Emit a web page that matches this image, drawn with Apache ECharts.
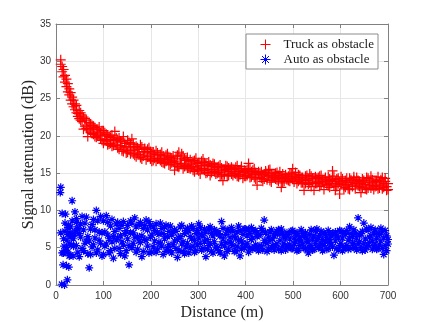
<!DOCTYPE html>
<html>
<head>
<meta charset="utf-8">
<script src="https://cdn.jsdelivr.net/npm/echarts@6/dist/echarts.min.js"></script>
<style>html,body{margin:0;padding:0;background:#fff;}#chart{width:429px;height:322px;}</style>
</head>
<body>
<div id="chart"></div>
<script>
// ---- data ----
const distance = [
10,13,16,19,22,25,28,31,34,37,
40,43,46,49,52,55,58,61,64,67,
70,73,76,79,82,85,88,91,94,97,
100,103,106,109,112,115,118,121,124,127,
130,133,136,139,142,145,148,151,154,157,
160,163,166,169,172,175,178,181,184,187,
190,193,196,199,202,205,208,211,214,217,
220,223,226,229,232,235,238,241,244,247,
250,253,256,259,262,265,268,271,274,277,
280,283,286,289,292,295,298,301,304,307,
310,313,316,319,322,325,328,331,334,337,
340,343,346,349,352,355,358,361,364,367,
370,373,376,379,382,385,388,391,394,397,
400,403,406,409,412,415,418,421,424,427,
430,433,436,439,442,445,448,451,454,457,
460,463,466,469,472,475,478,481,484,487,
490,493,496,499,502,505,508,511,514,517,
520,523,526,529,532,535,538,541,544,547,
550,553,556,559,562,565,568,571,574,577,
580,583,586,589,592,595,598,601,604,607,
610,613,616,619,622,625,628,631,634,637,
640,643,646,649,652,655,658,661,664,667,
670,673,676,679,682,685,688,691,694,697,
700];

// truck as obstacle, first measurement pass
const truckPass1 = [
30.2,29.3,27.9,28.1,26.6,27.0,25.5,25.8,24.3,24.8,
24.3,23.1,22.6,23.4,22.1,22.8,20.9,22.3,21.0,19.9,
21.8,20.5,21.4,20.2,21.1,19.8,20.9,20.0,19.6,20.7,
19.0,20.4,19.3,20.0,18.9,19.8,18.6,19.5,20.6,18.8,
19.5,18.2,19.2,18.0,19.9,18.5,17.7,19.4,18.1,18.9,
19.6,17.6,18.5,17.2,18.4,17.5,18.8,16.9,17.9,18.3,
16.8,18.2,17.3,17.9,16.6,17.8,17.0,18.0,16.9,17.4,
17.5,16.5,17.3,16.3,17.4,16.8,17.2,16.2,17.0,16.6,
15.4,17.2,15.9,17.8,16.3,17.6,15.6,16.9,16.0,17.1,
15.7,16.8,15.9,16.6,15.2,17.0,15.5,16.4,14.9,16.6,
16.9,15.4,16.2,15.1,16.5,14.7,15.9,16.3,15.2,15.8,
15.0,15.9,16.1,14.8,14.0,15.4,16.0,14.6,15.7,15.2,
15.8,14.7,15.5,14.9,16.0,14.5,15.3,15.6,14.3,15.4,
14.6,15.5,16.3,14.4,15.2,14.8,15.6,14.2,13.4,15.0,
14.4,15.2,13.9,14.9,15.3,14.1,14.7,15.5,13.8,14.6,
14.9,14.2,15.1,13.9,14.6,13.1,13.7,14.4,14.8,14.3,
14.0,15.0,14.3,15.6,14.6,14.5,13.6,14.8,14.1,14.4,
13.7,12.7,14.6,14.0,13.5,14.9,13.2,14.3,12.7,14.5,
13.6,14.4,13.2,14.7,13.9,12.8,14.2,13.5,14.5,13.1,
14.0,15.3,13.4,12.7,14.2,13.6,12.2,14.5,13.9,13.3,
13.1,14.3,13.7,12.8,14.1,13.4,14.5,12.9,13.6,14.0,
13.2,12.4,14.2,13.7,12.9,14.4,13.0,13.8,14.6,13.3,
12.8,13.9,13.3,14.5,13.0,14.1,12.9,13.6,14.3,13.2,
12.8];

// truck as obstacle, second measurement pass
const truckPass2 = [
29.6,28.6,28.9,27.2,27.6,25.9,26.3,24.8,25.2,23.9,
23.5,24.1,23.0,22.3,23.1,21.9,22.5,21.3,22.1,21.0,
20.8,21.6,20.3,21.3,19.9,20.9,20.1,21.2,20.4,19.4,
20.7,19.5,20.2,18.8,19.9,19.0,20.1,18.7,19.4,19.7,
18.4,19.7,18.7,19.3,17.9,19.0,18.6,17.8,19.1,17.6,
18.0,18.9,17.4,18.6,17.7,18.2,17.1,18.5,17.3,17.8,
17.9,17.2,18.4,16.9,17.6,16.7,17.5,16.6,17.7,16.9,
16.7,17.8,16.4,17.0,16.6,17.6,16.1,17.1,16.4,17.3,
16.6,16.1,17.4,15.8,16.9,16.2,17.3,15.9,16.7,15.7,
16.5,15.6,16.2,15.4,16.7,15.8,16.3,15.3,16.0,15.6,
15.6,16.4,15.0,16.0,15.4,16.1,15.1,15.5,16.2,14.9,
15.8,15.1,14.6,15.7,15.3,14.8,15.5,15.9,14.7,15.6,
14.9,15.6,15.0,15.8,14.6,15.2,14.8,15.9,15.1,14.6,
15.3,14.7,15.0,15.6,14.5,15.4,14.4,15.1,14.8,15.2,
15.0,14.3,14.8,14.2,15.1,14.6,15.4,14.0,14.9,14.4,
14.4,15.0,14.1,14.7,15.2,14.3,14.9,13.9,14.6,14.1,
14.6,13.9,14.9,14.2,13.8,15.1,14.4,13.9,14.7,13.7,
14.4,14.1,13.6,14.7,14.2,13.7,14.6,13.8,14.3,13.6,
14.3,13.8,14.6,13.4,14.1,13.7,14.4,13.9,13.3,14.2,
13.6,14.1,14.6,13.9,13.2,14.3,13.8,13.5,14.2,12.9,
14.0,13.5,12.9,14.3,13.8,13.2,14.1,13.7,14.4,13.3,
13.9,13.6,13.1,14.0,13.5,12.8,14.3,13.4,13.0,14.1,
13.7,13.2,14.0,12.9,13.8,13.4,14.4,13.1,13.9,12.7,
13.6];

// auto as obstacle, first measurement pass
const autoPass1 = [
13.1,9.6,4.3,7.2,2.6,6.8,5.5,7.8,11.3,6.2,
9.8,5.3,7.6,3.8,6.4,9.2,4.6,8.3,5.9,4.2,
2.3,7.5,5.1,8.8,6.3,10.0,4.7,7.1,5.6,3.9,
8.6,5.2,9.3,6.7,4.3,7.9,5.8,3.6,7.2,6.0,
8.4,4.9,6.6,8.0,5.4,3.9,7.3,6.2,2.7,8.6,
5.0,7.0,9.0,4.4,6.5,8.1,5.7,3.8,7.6,6.1,
8.7,5.2,8.5,6.4,4.4,7.8,5.9,8.2,4.8,6.8,
5.6,7.6,4.1,6.2,8.0,5.0,7.2,4.6,6.7,5.4,
7.4,4.9,3.7,6.3,7.8,5.5,4.5,6.9,5.1,7.6,
4.3,6.5,7.9,5.2,6.0,4.6,7.3,8.2,5.6,6.8,
4.9,7.5,3.8,6.1,5.3,7.8,4.5,6.6,5.8,7.2,
5.0,6.9,4.3,8.5,6.2,3.9,5.7,7.4,4.8,6.4,
7.7,5.3,6.5,4.6,7.1,7.9,3.9,5.9,6.8,5.0,
7.5,5.6,4.4,6.9,6.1,4.8,7.2,5.4,6.5,4.6,
6.8,5.2,7.3,8.7,5.7,4.5,6.4,7.1,5.0,6.2,
4.7,6.9,5.5,7.4,6.0,4.6,7.0,5.6,6.4,5.1,
6.8,5.4,7.2,4.9,6.3,5.8,7.0,4.7,6.5,7.4,
5.5,6.6,4.9,5.9,4.3,6.8,5.3,6.2,4.8,7.3,
6.0,5.0,6.7,5.6,4.6,7.0,5.8,6.4,4.9,6.1,
5.4,6.9,4.0,5.9,6.6,4.7,7.3,5.6,6.3,5.0,
6.8,5.3,6.0,7.8,4.9,6.5,5.6,7.0,4.7,9.0,
5.8,6.9,4.6,8.3,6.2,5.1,7.4,5.7,6.6,4.8,
7.0,5.5,6.3,4.9,6.8,5.9,7.2,4.1,5.3,6.6,
6.1];

// auto as obstacle, second measurement pass
const autoPass2 = [
7.0,4.3,6.2,8.3,5.0,7.7,3.9,6.6,8.6,5.2,
7.1,8.9,4.4,6.9,8.2,4.9,7.4,5.6,9.1,6.5,
5.9,4.1,8.1,5.4,7.4,4.3,8.6,6.0,9.2,7.0,
4.1,7.1,5.5,8.4,6.2,4.6,8.8,6.5,4.9,8.2,
6.3,7.6,4.2,5.8,8.5,6.9,4.6,8.0,5.3,7.0,
8.3,5.6,6.4,7.8,4.8,5.9,8.4,6.6,4.5,8.0,
6.0,7.4,4.3,8.0,6.7,5.1,7.3,4.4,7.0,5.7,
8.3,5.2,6.9,7.8,4.5,6.5,5.4,7.9,4.3,7.1,
5.9,7.2,6.1,4.6,6.5,8.0,5.8,4.2,7.3,5.6,
7.3,5.0,6.2,7.6,4.4,6.9,5.4,6.3,7.7,4.7,
6.6,5.8,7.1,4.8,7.5,5.6,6.9,4.3,7.4,5.1,
7.0,4.6,6.6,5.5,7.6,5.2,6.8,4.5,7.3,5.8,
5.5,7.2,4.5,6.3,5.2,6.0,7.3,4.8,5.6,7.5,
5.2,6.6,7.4,5.0,7.7,6.3,5.1,7.3,4.9,6.7,
5.3,7.6,4.7,6.0,7.0,5.6,4.8,6.0,7.4,5.3,
6.6,5.3,7.2,4.8,6.8,7.5,5.2,6.4,4.7,7.0,
5.2,6.2,4.9,7.3,5.5,6.9,4.6,6.1,5.3,5.9,
6.9,4.9,7.0,6.4,5.8,5.0,7.4,4.7,6.6,5.6,
7.5,6.4,5.2,7.2,6.1,5.3,6.8,4.8,7.3,5.7,
6.6,5.1,6.8,7.1,4.9,6.3,5.3,7.2,4.6,6.9,
5.1,7.3,4.8,6.2,6.9,5.5,7.4,5.0,6.3,5.6,
6.7,5.0,7.2,5.6,4.7,7.5,5.3,6.4,7.7,5.9,
5.1,7.4,4.8,6.9,5.4,7.6,4.9,6.3,7.3,4.6,
5.5];

// extra short-distance measurements of the auto obstacle
const autoEarlyDistance = [9,12,15,18,20,21,24,27,26,30,33,36,39,43,45,29,17,23,25,32];
const autoEarlyAttenuation = [12.4,0.1,2.7,0.0,9.5,4.6,0.7,2.4,8.0,4.0,6.5,3.9,6.9,8.4,7.5,7.0,5.2,6.0,4.4,5.4];

const xTicks = {min: 0, max: 700, interval: 100};
const yTicks = {min: 0, max: 35, interval: 5};
const seriesNames = ['Truck as obstacle', 'Auto as obstacle'];

// ---- chart ----
const plusPath = 'path://M0,5L10,5M5,0L5,10';
const starPath = 'path://M5,0L5,10M0,5L10,5M1.5,1.5L8.5,8.5M1.5,8.5L8.5,1.5';

const truckData = distance.map((d, i) => [d, truckPass1[i]])
  .concat(distance.map((d, i) => [d, truckPass2[i]]));
const autoData = distance.map((d, i) => [d, autoPass1[i]])
  .concat(distance.map((d, i) => [d, autoPass2[i]]))
  .concat(autoEarlyDistance.map((d, i) => [d, autoEarlyAttenuation[i]]));

const axisColor = '#808080';
const gridColor = '#e6e6e6';
const labelStyle = {color: '#333', fontSize: 10, fontFamily: 'Liberation Sans'};
const nameStyle = {fontFamily: 'Liberation Serif', fontSize: 16, color: '#262626'};

function mainAxis(t, pos, extra) {
  return Object.assign({
    type: 'value', min: t.min, max: t.max, interval: t.interval, position: pos,
    axisLine: {show: true, onZero: false, lineStyle: {color: axisColor, width: 1}},
    axisTick: {show: true, inside: true, length: 4, lineStyle: {color: axisColor}},
    splitLine: {show: true, lineStyle: {color: gridColor, width: 1}},
    axisLabel: Object.assign({show: true}, labelStyle)
  }, extra);
}
function mirrorAxis(t, pos) {
  return {
    type: 'value', min: t.min, max: t.max, interval: t.interval, position: pos,
    axisLine: {show: true, onZero: false, lineStyle: {color: axisColor, width: 1}},
    axisTick: {show: true, inside: true, length: 4, lineStyle: {color: axisColor}},
    splitLine: {show: false},
    axisLabel: {show: false}
  };
}

const chart = echarts.init(document.getElementById('chart'), null, {renderer: 'canvas'});
chart.setOption({
  animation: false,
  backgroundColor: '#fff',
  grid: {left: 56, right: 41, top: 24, bottom: 37, containLabel: false, outerBoundsMode: 'none'},
  xAxis: [
    mainAxis(xTicks, 'bottom', {
      name: 'Distance (m)', nameLocation: 'middle', nameGap: 20, nameMoveOverlap: false, nameTextStyle: nameStyle,
      axisLabel: Object.assign({margin: 6}, labelStyle)
    }),
    mirrorAxis(xTicks, 'top')
  ],
  yAxis: [
    mainAxis(yTicks, 'left', {
      name: 'Signal attenuation (dB)', nameLocation: 'middle', nameGap: 19, nameMoveOverlap: false, nameTextStyle: nameStyle,
      axisLabel: Object.assign({margin: 5}, labelStyle)
    }),
    mirrorAxis(yTicks, 'right')
  ],
  legend: {
    orient: 'vertical', left: 246, top: 34,
    padding: [3, 4, 2, 14], itemGap: 0, itemWidth: 10, itemHeight: 10,
    backgroundColor: '#fff', borderColor: '#8c8c8c', borderWidth: 1,
    textStyle: {fontFamily: 'Liberation Serif', fontSize: 13, color: '#1a1a1a', lineHeight: 15, padding: [0, 0, 0, 8]},
    data: [
      {name: seriesNames[0], icon: plusPath, itemStyle: {color: 'transparent', borderColor: '#ff0000', borderWidth: 1}},
      {name: seriesNames[1], icon: starPath, itemStyle: {color: 'transparent', borderColor: '#0000ff', borderWidth: 1}}
    ]
  },
  series: [
    {
      name: seriesNames[0], type: 'scatter', data: truckData,
      symbol: plusPath, symbolSize: 10, clip: false,
      itemStyle: {color: 'transparent', borderColor: '#ff0000', borderWidth: 1.2, opacity: 1},
      emphasis: {disabled: true}
    },
    {
      name: seriesNames[1], type: 'scatter', data: autoData,
      symbol: starPath, symbolSize: 8, clip: false,
      itemStyle: {color: 'transparent', borderColor: '#0000ff', borderWidth: 1.2, opacity: 1},
      emphasis: {disabled: true}
    }
  ]
});
</script>
</body>
</html>
